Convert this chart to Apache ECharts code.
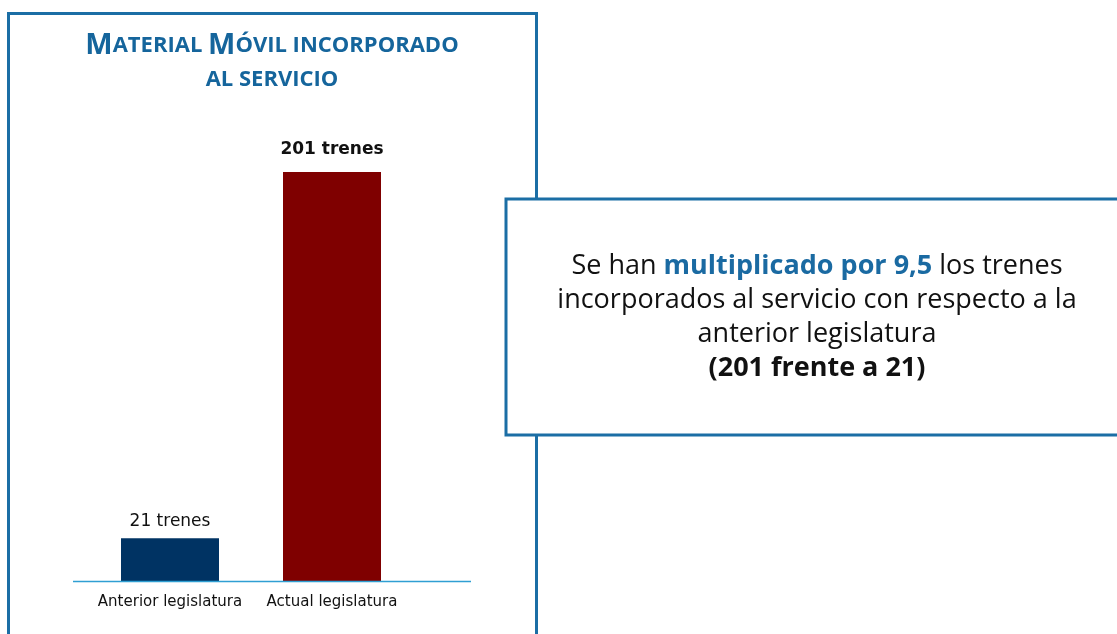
<!DOCTYPE html>
<html>
<head>
<meta charset="utf-8">
<script src="https://cdn.jsdelivr.net/npm/echarts@6/dist/echarts.min.js"></script>
<style>
  html, body { margin: 0; padding: 0; background: #fff; }
  #chart { width: 1117px; height: 634px; }
</style>
</head>
<body>
<div id="chart"></div>
<script>
// data
const categories = ["Anterior legislatura", "Actual legislatura"];
const trenes = [21, 201];
const barColors = ["#003363", "#7f0000"];

const blue = "#1b6ea5";

const chart = echarts.init(document.getElementById("chart"));

const seriesData = trenes.map(function (v, i) {
  return {
    value: v,
    itemStyle: { color: barColors[i] },
    label: i === 1
      ? { fontWeight: "bold", fontSize: 17, distance: 14 }
      : { fontWeight: "normal", fontSize: 17, distance: 8 },
  };
});

chart.setOption({
  animation: false,
  grid: {
    left: 89,
    right: 704,
    top: 172,
    bottom: 53,
  },
  xAxis: {
    type: "category",
    data: categories,
    axisLine: { show: false },
    axisTick: { show: false },
    axisLabel: {
      interval: 0,
      hideOverlap: false,
      color: "#111",
      fontFamily: "DejaVu Sans",
      fontSize: 15,
      margin: 14,
    },
  },
  yAxis: {
    type: "value",
    min: 0,
    max: "dataMax",
    show: false,
    splitLine: { show: false },
  },
  series: [
    {
      type: "bar",
      barWidth: 98,
      data: seriesData,
      label: {
        show: true,
        position: "top",
        color: "#111",
        fontFamily: "DejaVu Sans",
        formatter: "{c} trenes",
      },
    },
  ],
  graphic: [
    {
      type: "rect",
      z: 0,
      shape: { x: 8.5, y: 13.5, width: 528, height: 640 },
      style: { fill: "none", stroke: blue, lineWidth: 3 },
    },
    {
      type: "line",
      z: 5,
      shape: { x1: 73, y1: 581.5, x2: 471, y2: 581.5 },
      style: { stroke: "#2f9fd3", lineWidth: 1.5 },
    },
    {
      type: "text",
      z: 5,
      x: 272,
      y: 29,
      style: {
        text: "{b|M}{s|ATERIAL }{b|M}{s|ÓVIL INCORPORADO}\n{s|AL SERVICIO}",
        align: "center",
        fontFamily: "Open Sans",
        fontWeight: "bold",
        fill: "#15659c",
        lineHeight: 34,
        rich: {
          b: { fontSize: 29, fontWeight: "bold", fontFamily: "Open Sans", fill: "#15659c", lineHeight: 34 },
          s: { fontSize: 22, fontWeight: "bold", fontFamily: "Open Sans", fill: "#15659c", lineHeight: 34 },
        },
      },
    },
    {
      type: "rect",
      z: 10,
      shape: { x: 506, y: 199, width: 640, height: 236 },
      style: { fill: "#fff", stroke: blue, lineWidth: 3 },
    },
    {
      type: "text",
      z: 11,
      x: 817,
      y: 249,
      style: {
        text:
          "{n|Se han }{h|multiplicado por 9,5}{n| los trenes}\n" +
          "{n|incorporados al servicio con respecto a la}\n" +
          "{n|anterior legislatura}\n" +
          "{k|(201 frente a 21)}",
        align: "center",
        rich: {
          n: { fontSize: 27, fontFamily: "Open Sans", fill: "#111", lineHeight: 34 },
          h: { fontSize: 27, fontFamily: "Open Sans", fontWeight: "bold", fill: "#1a6aa2", lineHeight: 34 },
          k: { fontSize: 27, fontFamily: "Open Sans", fontWeight: "bold", fill: "#111", lineHeight: 34 },
        },
      },
    },
  ],
});
</script>
</body>
</html>
